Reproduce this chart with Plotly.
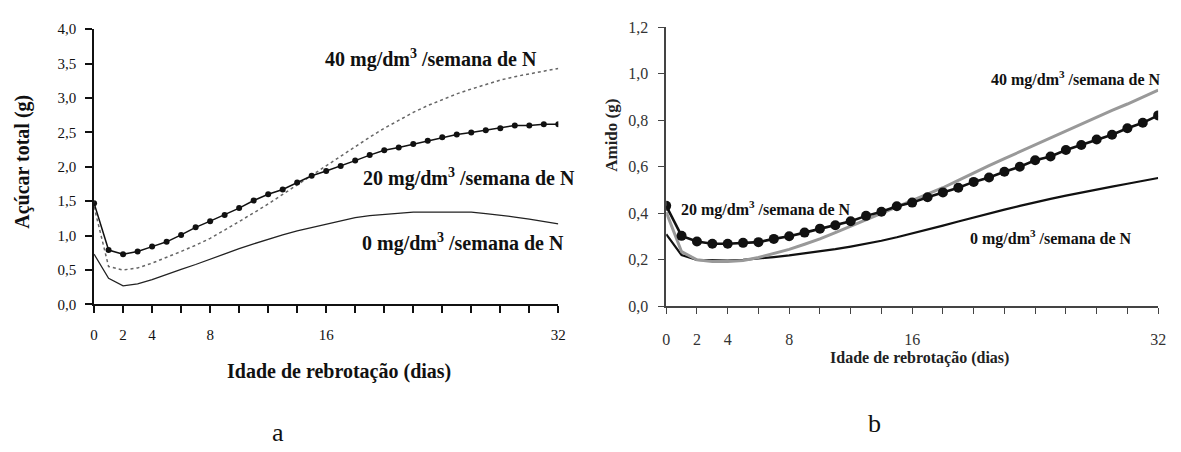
import plotly.graph_objects as go

# ---------------- data ----------------
dias = list(range(0, 33))

# Panel a: Açúcar total (g)
acucar_0 = [0.73, 0.38, 0.27, 0.30, 0.36, 0.44, 0.51, 0.58, 0.66, 0.74, 0.81, 0.88, 0.95,
            1.01, 1.07, 1.12, 1.17, 1.22, 1.26, 1.29, 1.31, 1.33, 1.34, 1.34, 1.34, 1.34,
            1.34, 1.32, 1.30, 1.27, 1.24, 1.21, 1.17]
acucar_20 = [1.47, 0.79, 0.73, 0.77, 0.84, 0.91, 1.01, 1.12, 1.21, 1.30, 1.40, 1.51, 1.60,
             1.67, 1.77, 1.87, 1.94, 2.01, 2.09, 2.17, 2.24, 2.28, 2.33, 2.38, 2.43, 2.47,
             2.50, 2.53, 2.56, 2.60, 2.60, 2.62, 2.62]
acucar_40 = [1.42, 0.55, 0.50, 0.53, 0.60, 0.68, 0.77, 0.86, 0.96, 1.08, 1.20, 1.33, 1.46,
             1.60, 1.74, 1.88, 2.02, 2.16, 2.30, 2.43, 2.56, 2.68, 2.79, 2.89, 2.98, 3.06,
             3.13, 3.20, 3.26, 3.31, 3.35, 3.39, 3.43]

# Panel b: Amido (g)
amido_0 = [0.31, 0.22, 0.20, 0.197, 0.197, 0.20, 0.205, 0.212, 0.219, 0.227, 0.236, 0.246,
           0.257, 0.269, 0.282, 0.297, 0.313, 0.330, 0.347, 0.365, 0.383, 0.400, 0.416, 0.432,
           0.448, 0.462, 0.476, 0.49, 0.503, 0.515, 0.527, 0.54, 0.552]
amido_20 = [0.432, 0.303, 0.279, 0.269, 0.269, 0.273, 0.276, 0.290, 0.301, 0.317, 0.334,
            0.349, 0.366, 0.389, 0.407, 0.430, 0.446, 0.469, 0.490, 0.510, 0.535, 0.554,
            0.579, 0.600, 0.628, 0.644, 0.672, 0.694, 0.717, 0.738, 0.766, 0.789, 0.821]
amido_40 = [0.405, 0.235, 0.20, 0.193, 0.193, 0.197, 0.21, 0.226, 0.245, 0.267, 0.29, 0.317,
            0.345, 0.372, 0.40, 0.428, 0.455, 0.483, 0.51, 0.542, 0.575, 0.605, 0.635, 0.665,
            0.695, 0.725, 0.755, 0.785, 0.815, 0.843, 0.87, 0.90, 0.93]

x_ticks = list(range(0, 33, 2))
x_labels_shown = [0, 2, 4, 8, 16, 32]
x_ticktext = [str(v) if v in x_labels_shown else "" for v in x_ticks]

ya_ticks = [0.0, 0.5, 1.0, 1.5, 2.0, 2.5, 3.0, 3.5, 4.0]
yb_ticks = [0.0, 0.2, 0.4, 0.6, 0.8, 1.0, 1.2]

serie_labels = ["0 mg/dm<sup>3</sup> /semana de N",
                "20 mg/dm<sup>3</sup> /semana de N",
                "40 mg/dm<sup>3</sup> /semana de N"]

FONT = "'Liberation Serif', 'Times New Roman', serif"
W, H = 1181, 452

def px_x(p):
    return p / W

def px_y(p):
    return 1 - p / H

fig = go.Figure()

# ---- panel a ----
fig.add_trace(go.Scatter(x=dias, y=acucar_0, mode="lines", xaxis="x", yaxis="y",
                         line=dict(color="#222222", width=1.3), showlegend=False))
fig.add_trace(go.Scatter(x=dias, y=acucar_40, mode="lines", xaxis="x", yaxis="y",
                         line=dict(color="#666666", width=1.5, dash="dot"), showlegend=False))
fig.add_trace(go.Scatter(x=dias, y=acucar_20, mode="lines+markers", xaxis="x", yaxis="y",
                         line=dict(color="#111111", width=1.5),
                         marker=dict(color="#111111", size=6, symbol="circle"),
                         showlegend=False))

# ---- panel b ----
fig.add_trace(go.Scatter(x=dias, y=amido_0, mode="lines", xaxis="x2", yaxis="y2",
                         line=dict(color="#111111", width=2.2), showlegend=False))
fig.add_trace(go.Scatter(x=dias, y=amido_40, mode="lines", xaxis="x2", yaxis="y2",
                         line=dict(color="#999999", width=3), showlegend=False))
fig.add_trace(go.Scatter(x=dias, y=amido_20, mode="lines+markers", xaxis="x2", yaxis="y2",
                         line=dict(color="#111111", width=2.6),
                         marker=dict(color="#111111", size=10, symbol="circle"),
                         showlegend=False))

axis_common = dict(showgrid=False, zeroline=False, showline=True, ticks="outside",
                   mirror=False)

fig.update_layout(
    width=W, height=H,
    margin=dict(l=0, r=0, t=0, b=0),
    paper_bgcolor="white", plot_bgcolor="white",
    font=dict(family=FONT, color="#111111"),
    xaxis=dict(**axis_common, domain=[px_x(91), px_x(560)], range=[0, 32], anchor="y",
               tickvals=x_ticks, ticktext=x_ticktext, ticklen=7, tickwidth=1.5,
               linecolor="#111111", linewidth=1.5, tickcolor="#111111",
               tickfont=dict(size=15, family=FONT, color="#111111"), ticklabelstandoff=9),
    yaxis=dict(**axis_common, domain=[px_y(308), px_y(22)], range=[0, 4], anchor="x",
               tickvals=ya_ticks, ticktext=[f"{v:.1f}".replace(".", ",") for v in ya_ticks],
               ticklen=7, tickwidth=1.5, linecolor="#111111", linewidth=1.5,
               tickcolor="#111111",
               tickfont=dict(size=15, family=FONT, color="#111111"), ticklabelstandoff=6),
    xaxis2=dict(**axis_common, domain=[px_x(669), px_x(1166)], range=[0, 32], anchor="y2",
                tickvals=x_ticks, ticktext=x_ticktext, ticklen=6, tickwidth=1.3,
                linecolor="#444444", linewidth=1.5, tickcolor="#444444",
                tickfont=dict(size=16, family=FONT, color="#333333"), ticklabelstandoff=12),
    yaxis2=dict(**axis_common, domain=[px_y(310), px_y(20)], range=[0, 1.2], anchor="x2",
                tickvals=yb_ticks, ticktext=[f"{v:.1f}".replace(".", ",") for v in yb_ticks],
                ticklen=6, tickwidth=1.3, linecolor="#444444", linewidth=1.5,
                tickcolor="#444444",
                tickfont=dict(size=16, family=FONT, color="#333333"), ticklabelstandoff=7),
)

annotations = [
    # panel a series labels
    dict(x=15.75, y=3.57, xref="x", yref="y", text="<b>" + serie_labels[2] + "</b>",
         font=dict(size=20, family=FONT, color="#111111")),
    dict(x=18.4, y=1.85, xref="x", yref="y", text="<b>" + serie_labels[1] + "</b>",
         font=dict(size=20, family=FONT, color="#111111")),
    dict(x=18.3, y=0.90, xref="x", yref="y", text="<b>" + serie_labels[0] + "</b>",
         font=dict(size=20, family=FONT, color="#111111")),
    # panel b series labels
    dict(x=21.0, y=0.98, xref="x2", yref="y2", text="<b>" + serie_labels[2] + "</b>",
         font=dict(size=16, family=FONT, color="#111111")),
    dict(x=0.85, y=0.42, xref="x2", yref="y2", text="<b>" + serie_labels[1] + "</b>",
         font=dict(size=16, family=FONT, color="#111111")),
    dict(x=19.6, y=0.294, xref="x2", yref="y2", text="<b>" + serie_labels[0] + "</b>",
         font=dict(size=16, family=FONT, color="#111111")),
]
for a in annotations:
    a.update(showarrow=False, xanchor="left", yanchor="middle")

# axis titles and panel letters
annotations += [
    dict(x=px_x(338), y=px_y(378), xref="paper", yref="paper",
         text="<b>Idade de rebrotação (dias)</b>", showarrow=False,
         font=dict(size=20, family=FONT, color="#111111"), xanchor="center", yanchor="middle"),
    dict(x=px_x(19), y=px_y(160), xref="paper", yref="paper",
         text="<b>Açúcar total (g)</b>", showarrow=False, textangle=-90,
         font=dict(size=20, family=FONT, color="#111111"), xanchor="center", yanchor="middle"),
    dict(x=px_x(925), y=px_y(364), xref="paper", yref="paper",
         text="<b>Idade de rebrotação (dias)</b>", showarrow=False,
         font=dict(size=16, family=FONT, color="#222222"), xanchor="center", yanchor="middle"),
    dict(x=px_x(613), y=px_y(132), xref="paper", yref="paper",
         text="<b>Amido (g)</b>", showarrow=False, textangle=-90,
         font=dict(size=17, family=FONT, color="#222222"), xanchor="center", yanchor="middle"),
    dict(x=px_x(277), y=px_y(441), xref="paper", yref="paper", text="a", showarrow=False,
         font=dict(size=26, family=FONT, color="#111111"), xanchor="center", yanchor="middle"),
    dict(x=px_x(879), y=px_y(432), xref="paper", yref="paper", text="b", showarrow=False,
         font=dict(size=26, family=FONT, color="#111111"), xanchor="center", yanchor="middle"),
]
fig.update_layout(annotations=annotations)

fig.write_html("out.html")
